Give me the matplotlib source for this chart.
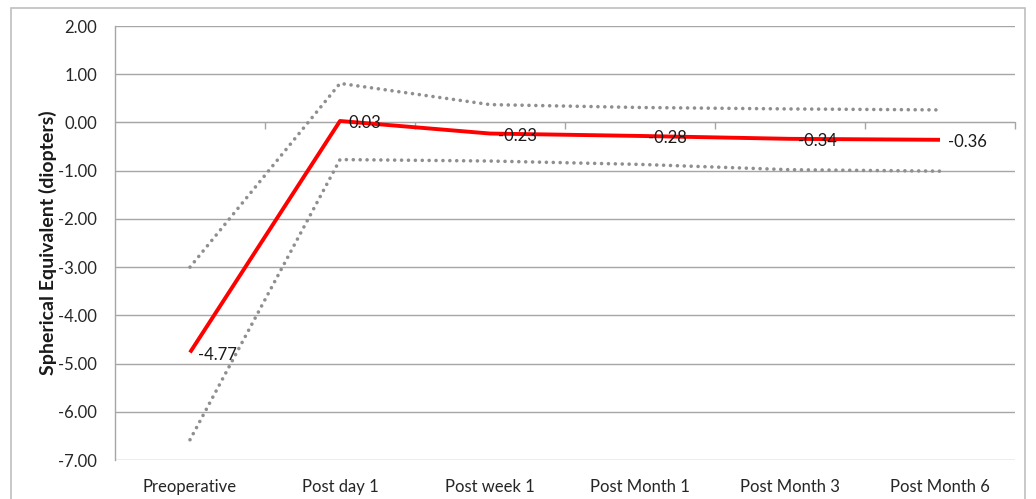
import numpy as np
import matplotlib.pyplot as plt
from matplotlib.patches import Rectangle

plt.rcParams['font.family'] = ['Lato', 'DejaVu Sans']

stages = ['Preoperative', 'Post day 1', 'Post week 1',
          'Post Month 1', 'Post Month 3', 'Post Month 6']
mean_se = [-4.77, 0.03, -0.23, -0.28, -0.34, -0.36]
upper_se = [-3.00, 0.81, 0.37, 0.31, 0.28, 0.26]
lower_se = [-6.58, -0.77, -0.80, -0.87, -0.98, -1.01]
yticks = np.arange(-7, 2 + .1, 1)

fig = plt.figure(figsize=(10.36, 4.99), dpi=100)
ax = fig.add_axes([115/1036, 39/499, 900/1036, 434/499])

# outer chart frame
fig.patches.append(Rectangle(
        (11/1036, -0.05), 1014/1036, 1 - 8/499 + 0.05,
        transform=fig.transFigure, fill=False,
        edgecolor='#bfbfbf', lw=1.2))

x = np.arange(len(stages))
grid_c = '#a6a6a6'
for yv in yticks:
    ax.axhline(yv, color=grid_c, lw=1, zorder=1)

dot_style = dict(color='#8f8f8f', lw=2.6, ls=(0, (0.01, 1.9)),
                 dash_capstyle='round', zorder=2)
ax.plot(x, upper_se, **dot_style)
ax.plot(x, lower_se, **dot_style)
ax.plot(x, mean_se, color='#ff0000', lw=2.8, zorder=3,
        solid_capstyle='butt')

for xi, yi in zip(x, mean_se):
    ax.annotate(f'{yi:.2f}', (xi, yi), xytext=(6, -1.5),
                textcoords='offset points', ha='left', va='center',
                fontsize=12, color='#1a1a1a', zorder=4)

ax.set_xlim(-0.5, len(stages) - 0.5)
ax.set_ylim(-7, 2)
ax.set_yticks(yticks)
ax.set_yticklabels([f'{v:.2f}' for v in yticks])
ax.set_xticks(x)
ax.set_xticklabels(stages)
ax.tick_params(axis='x', length=0, pad=14, labelsize=12,
               labelcolor='#262626')
ax.tick_params(axis='y', length=0, pad=13, labelsize=12,
               labelcolor='#262626')
for s in ['top', 'right', 'bottom']:
    ax.spines[s].set_visible(False)
ax.spines['left'].set_color(grid_c)
ax.spines['left'].set_linewidth(1)

# category axis crossing at zero
sec = ax.secondary_xaxis(7/9)
sec.set_xticks(np.arange(0.5, len(stages), 1))
sec.set_xticklabels([])
sec.tick_params(axis='x', direction='in', length=5, color=grid_c,
                width=1)
for s in sec.spines.values():
    s.set_color(grid_c)

ax.set_ylabel('Spherical Equivalent (diopters)', fontsize=14,
              fontweight='bold', labelpad=1, color='#1a1a1a')

fig.savefig('out.png', dpi=100)
